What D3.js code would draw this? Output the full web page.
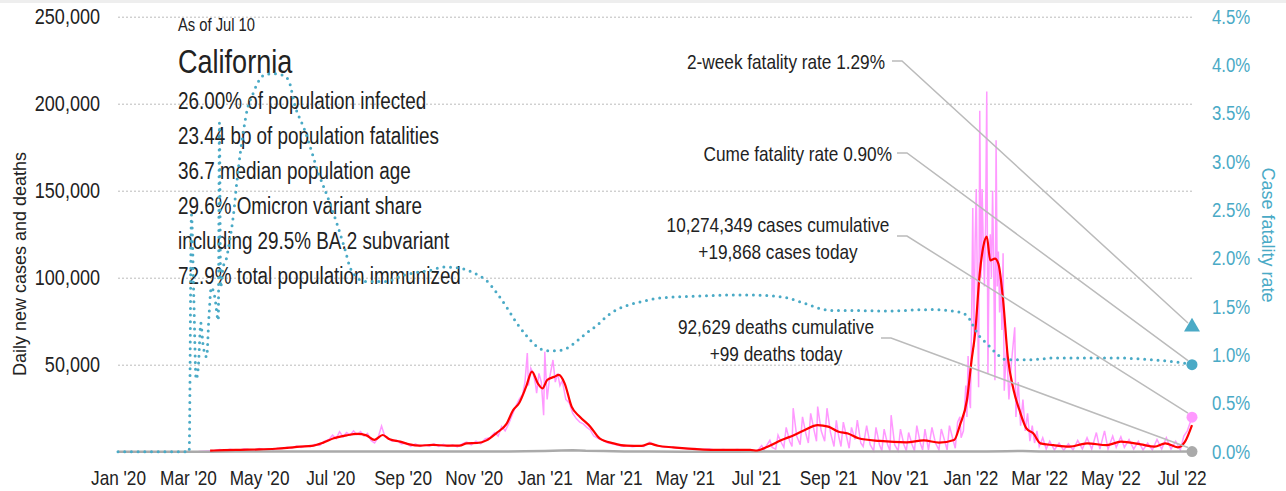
<!DOCTYPE html>
<html>
<head>
<meta charset="utf-8">
<script src="https://cdn.jsdelivr.net/npm/d3@7"></script>
<style>
  html, body { margin: 0; padding: 0; background: #fff; }
  svg text { font-family: 'Liberation Sans', Arial, sans-serif; fill: #222; }
</style>
</head>
<body>
<svg id="chart" width="1286" height="491"></svg>
<script>
// ---- data ----
const asOf = "As of Jul 10";
const place = "California";
const infoLines = [
    "26.00% of population infected",
    "23.44 bp of population fatalities",
    "36.7 median population age",
    "29.6% Omicron variant share",
    "including 29.5% BA.2 subvariant",
    "72.9% total population immunized"
];
const leftTicks = [50000, 100000, 150000, 200000, 250000];
const rightTicks = [0, 0.5, 1, 1.5, 2, 2.5, 3, 3.5, 4, 4.5];

// daily new cases
const dailyCases = [
    ["2020-01-01",0],["2020-03-01",0],["2020-03-10",100],["2020-03-18",400],["2020-03-24",700],["2020-03-28",1200],
    ["2020-04-02",900],["2020-04-06",1400],["2020-04-10",1000],["2020-04-14",800],["2020-04-18",1600],["2020-04-22",1200],
    ["2020-04-27",1000],["2020-05-01",1800],["2020-05-05",1300],["2020-05-09",1700],["2020-05-13",1200],["2020-05-17",2000],
    ["2020-05-21",1800],["2020-05-25",2500],["2020-05-29",2000],["2020-06-02",3200],["2020-06-06",2500],["2020-06-10",3400],
    ["2020-06-14",2800],["2020-06-18",4200],["2020-06-22",3600],["2020-06-26",6000],["2020-06-30",7000],["2020-07-03",9500],
    ["2020-07-06",7500],["2020-07-09",11500],["2020-07-12",8500],["2020-07-15",11000],["2020-07-18",9500],["2020-07-21",12000],
    ["2020-07-24",9800],["2020-07-27",11500],["2020-07-30",9000],["2020-08-02",10500],["2020-08-05",6500],["2020-08-08",5000],
    ["2020-08-11",8000],["2020-08-14",14800],["2020-08-17",8500],["2020-08-20",7500],["2020-08-23",6000],["2020-08-27",6500],
    ["2020-08-31",4500],["2020-09-04",5000],["2020-09-08",3000],["2020-09-12",4500],["2020-09-16",3000],["2020-09-20",4000],
    ["2020-09-24",3200],["2020-09-28",4500],["2020-10-02",3000],["2020-10-06",4200],["2020-10-10",3000],["2020-10-14",4000],
    ["2020-10-18",2800],["2020-10-22",4500],["2020-10-26",5500],["2020-10-30",4000],["2020-11-03",6000],["2020-11-07",4500],
    ["2020-11-11",7500],["2020-11-15",8000],["2020-11-19",11000],["2020-11-22",9000],["2020-11-25",14500],["2020-11-28",12000],
    ["2020-12-01",16000],["2020-12-04",21000],["2020-12-07",26000],["2020-12-10",30000],["2020-12-13",33000],["2020-12-15",40000],
    ["2020-12-17",56700],["2020-12-18",38000],["2020-12-20",48000],["2020-12-22",45000],["2020-12-24",39000],["2020-12-25",33700],
    ["2020-12-27",45000],["2020-12-29",40000],["2020-12-31",21000],["2021-01-01",57500],["2021-01-03",30000],["2021-01-05",42000],
    ["2021-01-08",52700],["2021-01-10",40000],["2021-01-12",45000],["2021-01-14",38000],["2021-01-16",41000],["2021-01-19",30000],
    ["2021-01-22",28000],["2021-01-25",22000],["2021-01-28",19000],["2021-01-31",17000],["2021-02-03",16000],["2021-02-06",14000],
    ["2021-02-09",12500],["2021-02-12",9000],["2021-02-16",7500],["2021-02-20",6500],["2021-02-24",5000],["2021-02-28",4500],
    ["2021-03-04",3800],["2021-03-08",3200],["2021-03-12",3500],["2021-03-17",2800],["2021-03-22",3300],["2021-03-27",3000],
    ["2021-04-01",5500],["2021-04-05",3800],["2021-04-09",3200],["2021-04-14",2600],["2021-04-19",2800],["2021-04-24",2000],
    ["2021-04-29",2300],["2021-05-04",1500],["2021-05-10",1800],["2021-05-16",1200],["2021-05-22",1500],["2021-05-28",900],
    ["2021-06-03",1300],["2021-06-09",800],["2021-06-15",1200],["2021-06-21",900],["2021-06-27",1100],["2021-07-02",300],
    ["2021-07-06",3500],["2021-07-08",1000],["2021-07-13",6500],["2021-07-15",2500],["2021-07-18",1500],["2021-07-20",9500],
    ["2021-07-23",5000],["2021-07-25",2500],["2021-07-27",14000],["2021-07-30",6000],["2021-08-01",3000],["2021-08-02",25000],
    ["2021-08-05",9000],["2021-08-08",4000],["2021-08-10",20000],["2021-08-13",10000],["2021-08-15",5000],["2021-08-17",22000],
    ["2021-08-20",12000],["2021-08-22",6000],["2021-08-23",25900],["2021-08-26",12000],["2021-08-29",6000],["2021-08-31",25000],
    ["2021-09-03",11000],["2021-09-06",3000],["2021-09-08",18000],["2021-09-10",9000],["2021-09-12",3000],["2021-09-14",17000],
    ["2021-09-17",8000],["2021-09-19",2000],["2021-09-21",14000],["2021-09-24",7000],["2021-09-26",18200],["2021-09-29",5000],
    ["2021-10-01",3000],["2021-10-04",15000],["2021-10-07",4000],["2021-10-10",500],["2021-10-12",14000],["2021-10-15",4000],
    ["2021-10-17",500],["2021-10-19",13000],["2021-10-22",4000],["2021-10-24",500],["2021-10-25",21000],["2021-10-28",4000],
    ["2021-10-31",500],["2021-11-02",13000],["2021-11-05",4000],["2021-11-07",500],["2021-11-09",11000],["2021-11-12",4000],
    ["2021-11-14",500],["2021-11-16",15000],["2021-11-19",5000],["2021-11-21",1000],["2021-11-23",13000],["2021-11-26",1000],
    ["2021-11-29",14000],["2021-12-02",5000],["2021-12-05",1000],["2021-12-07",13000],["2021-12-10",6000],["2021-12-12",1000],
    ["2021-12-14",15000],["2021-12-17",7000],["2021-12-19",2000],["2021-12-21",17000],["2021-12-23",20000],["2021-12-24",8000],
    ["2021-12-26",12000],["2021-12-28",38000],["2021-12-29",20000],["2021-12-30",55000],
    ["2021-12-31",30000],["2022-01-01",25000],["2022-01-02",75000],["2022-01-03",140000],["2022-01-04",60000],["2022-01-05",120000],
    ["2022-01-06",151000],["2022-01-07",90000],["2022-01-08",37000],["2022-01-09",196000],["2022-01-10",100000],["2022-01-11",151000],
    ["2022-01-12",120000],["2022-01-13",95000],["2022-01-14",130000],["2022-01-15",207000],["2022-01-16",45000],["2022-01-17",110000],
    ["2022-01-18",125000],["2022-01-19",100000],["2022-01-20",150000],["2022-01-21",105000],["2022-01-22",41000],["2022-01-23",179000],
    ["2022-01-24",95000],["2022-01-25",115000],["2022-01-26",80000],["2022-01-27",100000],["2022-01-28",70000],["2022-01-29",114000],
    ["2022-01-30",35000],["2022-02-01",60000],["2022-02-03",30000],["2022-02-05",50000],["2022-02-08",71500],["2022-02-09",20000],
    ["2022-02-11",40000],["2022-02-13",15000],["2022-02-15",30000],["2022-02-17",12000],["2022-02-19",22000],["2022-02-21",6000],
    ["2022-02-23",15000],["2022-02-25",5000],["2022-02-27",12000],["2022-03-01",3000],["2022-03-04",8000],["2022-03-07",1500],
    ["2022-03-10",6000],["2022-03-14",1000],["2022-03-18",5000],["2022-03-22",800],["2022-03-26",4500],["2022-03-30",1000],
    ["2022-04-03",6500],["2022-04-07",1500],["2022-04-11",8000],["2022-04-15",1500],["2022-04-19",11000],["2022-04-22",1500],
    ["2022-04-26",12000],["2022-04-29",1500],["2022-05-03",9000],["2022-05-06",2500],["2022-05-10",8600],["2022-05-13",2500],
    ["2022-05-17",7000],["2022-05-21",1500],["2022-05-25",6000],["2022-05-29",1000],["2022-06-02",5000],["2022-06-06",1000],
    ["2022-06-10",7000],["2022-06-14",1500],["2022-06-18",8000],["2022-06-22",1500],["2022-06-26",6000],["2022-06-30",1000],
    ["2022-07-03",9000],["2022-07-06",12000],["2022-07-10",19868]
];

// 7-day average of cases
const avgCases = [
    ["2020-03-20",600],["2020-04-01",900],["2020-04-15",1100],["2020-05-01",1300],["2020-05-15",1700],["2020-05-25",2200],
    ["2020-06-05",2900],["2020-06-15",3300],["2020-06-25",5200],["2020-07-04",7700],["2020-07-15",9400],["2020-07-24",10200],
    ["2020-08-01",9400],["2020-08-08",6800],["2020-08-15",9600],["2020-08-21",7100],["2020-08-30",5800],["2020-09-07",4200],
    ["2020-09-16",3500],["2020-09-27",3900],["2020-10-09",3500],["2020-10-20",3500],["2020-10-26",4800],["2020-11-04",5000],
    ["2020-11-12",6500],["2020-11-21",11000],["2020-11-29",15800],["2020-12-05",24000],["2020-12-10",28000],["2020-12-16",37400],
    ["2020-12-21",46000],["2020-12-26",39300],["2020-12-30",36400],["2021-01-03",41200],["2021-01-09",43000],["2021-01-13",44100],
    ["2021-01-18",39300],["2021-01-24",25900],["2021-01-31",20100],["2021-02-09",14400],["2021-02-17",7700],["2021-03-01",4800],
    ["2021-03-12",3450],["2021-03-25",3300],["2021-04-01",4600],["2021-04-08",3400],["2021-04-21",2500],["2021-05-11",1500],
    ["2021-06-03",1000],["2021-06-26",1000],["2021-07-02",700],["2021-07-11",2900],["2021-07-23",6700],["2021-08-03",9600],
    ["2021-08-12",12500],["2021-08-23",15300],["2021-09-01",14400],["2021-09-10",11500],["2021-09-18",10500],["2021-09-27",7700],
    ["2021-10-15",6200],["2021-11-07",5400],["2021-11-22",6500],["2021-12-05",5200],["2021-12-18",6700],["2021-12-23",15300],
    ["2021-12-29",29700],["2022-01-02",52700],["2022-01-05",68000],["2022-01-09",102600],["2022-01-12",117800],["2022-01-15",123600],
    ["2022-01-18",110000],["2022-01-22",111000],["2022-01-25",108000],["2022-01-29",87200],["2022-02-02",54600],["2022-02-07",35500],
    ["2022-02-12",24000],["2022-02-18",13400],["2022-02-24",10500],["2022-03-02",4800],["2022-03-13",3800],["2022-03-27",2900],
    ["2022-04-11",4800],["2022-04-28",3800],["2022-05-10",5750],["2022-05-27",4200],["2022-06-08",2900],["2022-06-17",4800],
    ["2022-06-28",2500],["2022-07-04",5750],["2022-07-10",15300]
];

// daily new deaths
const dailyDeaths = [
    ["2020-01-01",0],["2020-03-01",0],["2020-03-20",10],["2020-04-10",80],["2020-05-01",70],["2020-06-01",70],
    ["2020-07-01",90],["2020-07-20",130],["2020-08-01",160],["2020-08-20",130],["2020-09-10",100],["2020-10-01",80],
    ["2020-11-01",50],["2020-12-01",80],["2020-12-15",250],["2021-01-01",400],["2021-01-15",700],["2021-01-25",900],
    ["2021-02-05",500],["2021-02-20",350],["2021-03-10",150],["2021-04-01",60],["2021-05-01",40],["2021-06-15",30],
    ["2021-08-01",60],["2021-09-01",120],["2021-10-01",100],["2021-11-01",60],["2021-12-15",50],["2022-01-15",150],
    ["2022-02-01",300],["2022-02-15",400],["2022-03-01",150],["2022-04-01",50],["2022-05-15",30],["2022-07-10",99]
];

// case fatality rate, percent
const fatalityRate = [
    ["2020-01-01",0],["2020-03-02",0],["2020-03-04",2.45],["2020-03-06",1.6],["2020-03-08",0.75],["2020-03-10",0.9],
    ["2020-03-12",1.33],["2020-03-14",1.1],["2020-03-17",0.98],["2020-03-19",1.4],["2020-03-21",1.7],["2020-03-24",1.6],
    ["2020-03-27",1.36],["2020-03-28",3.4],["2020-03-29",1.7],["2020-03-31",1.9],["2020-04-03",2.0],["2020-04-06",2.2],
    ["2020-04-09",2.45],["2020-04-12",2.8],["2020-04-15",3.1],["2020-04-18",3.35],["2020-04-21",3.55],["2020-04-25",3.68],
    ["2020-04-30",3.82],["2020-05-06",3.9],["2020-05-14",3.91],["2020-05-20",3.9],["2020-05-26",3.85],["2020-06-01",3.57],
    ["2020-06-09",3.33],["2020-06-21",2.88],["2020-07-02",2.53],["2020-07-13",2.12],["2020-07-19",1.88],["2020-07-31",1.76],
    ["2020-08-17",1.76],["2020-09-03",1.83],["2020-09-26",1.88],["2020-10-06",1.91],["2020-10-20",1.9],["2020-11-01",1.85],
    ["2020-11-12",1.77],["2020-11-21",1.64],["2020-11-29",1.50],["2020-12-08",1.33],["2020-12-17",1.19],["2020-12-25",1.09],
    ["2021-01-03",1.045],["2021-01-11",1.045],["2021-01-20",1.07],["2021-01-28",1.14],["2021-02-06",1.23],["2021-02-15",1.31],
    ["2021-02-23",1.40],["2021-03-04",1.47],["2021-03-12",1.51],["2021-03-24",1.55],["2021-04-04",1.58],["2021-04-21",1.60],
    ["2021-05-14",1.61],["2021-06-06",1.62],["2021-06-29",1.62],["2021-07-16",1.61],["2021-07-28",1.59],["2021-08-08",1.55],
    ["2021-08-20",1.50],["2021-08-31",1.465],["2021-09-11",1.46],["2021-09-25",1.46],["2021-10-21",1.455],["2021-11-27",1.47],
    ["2021-12-20",1.45],["2021-12-29",1.41],["2022-01-03",1.31],["2022-01-09",1.19],["2022-01-15",1.12],["2022-01-23",1.02],
    ["2022-02-01",0.95],["2022-02-12",0.95],["2022-02-27",0.955],["2022-03-13",0.97],["2022-04-05",0.97],["2022-05-04",0.97],
    ["2022-06-02",0.955],["2022-06-25",0.93],["2022-07-10",0.905]
];

const lastDate = "2022-07-10";
const twoWeekRate = 1.29;
const cumeRate = 0.90;
const casesToday = 19868;
const deathsToday = 99;
const twoWeekText = "2-week fatality rate 1.29%";
const cumeText = "Cume fatality rate 0.90%";
const casesText = ["10,274,349 cases cumulative", "+19,868 cases today"];
const deathsText = ["92,629 deaths cumulative", "+99 deaths today"];

// ---- drawing ----
const parse = d3.timeParse("%Y-%m-%d");
const toPts = arr => arr.map(d => ({ date: parse(d[0]), value: d[1] }));

// no narrow font installed: squeeze the regular face horizontally
const narrow = 0.82;
function condense(sel) {
    sel.each(function () {
        const t = d3.select(this);
        const xv = +t.attr("x") || 0;
        t.attr("x", xv / narrow).attr("transform", `scale(${narrow},1)`);
    });
}

const svg = d3.select("#chart");
const blue = "#4aaac6";
const plotLeft = 118, plotRight = 1192, plotTop = 16.7, plotBottom = 451.7;

const x = d3.scaleTime()
    .domain([parse("2020-01-01"), parse(lastDate)])
    .range([plotLeft, plotRight]);
const y = d3.scaleLinear().domain([0, 250000]).range([plotBottom, plotTop]);
const yRate = d3.scaleLinear().domain([0, 4.5]).range([plotBottom, plotTop]);

svg.append("rect").attr("width", 1286).attr("height", 491).attr("fill", "#fff");
svg.append("rect").attr("width", 1286).attr("height", 3).attr("fill", "#eeeeee");

// left axis with gridlines
const gAxisL = svg.append("g")
    .attr("transform", `translate(${plotLeft},0)`)
    .call(d3.axisLeft(y).tickValues(leftTicks).tickSize(-(plotRight - plotLeft)).tickPadding(18).tickFormat(d3.format(",")));
gAxisL.select(".domain").remove();
gAxisL.selectAll("line").attr("stroke", "#bbb").attr("stroke-dasharray", "2,2");
gAxisL.selectAll("text").style("font-size", "22px").attr("fill", "#222").call(condense);

// right axis
const gAxisR = svg.append("g")
    .attr("transform", `translate(${plotRight},0)`)
    .call(d3.axisRight(yRate).tickValues(rightTicks).tickSize(0).tickPadding(20).tickFormat(d => d3.format(".1f")(d) + "%"));
gAxisR.select(".domain").remove();
gAxisR.selectAll("text").style("font-size", "20.5px").style("fill", blue).call(condense);

// bottom axis
const gAxisB = svg.append("g")
    .attr("transform", `translate(0,${plotBottom})`)
    .call(d3.axisBottom(x).ticks(d3.timeMonth.every(2)).tickSize(0).tickPadding(18).tickFormat(d3.timeFormat("%b '%y")));
gAxisB.select(".domain").remove();
gAxisB.selectAll("text").style("font-size", "21px").attr("fill", "#222").call(condense);

// axis titles
svg.append("text")
    .attr("transform", "translate(26,264) rotate(-90)")
    .attr("text-anchor", "middle")
    .style("font-size", "18px")
    .text("Daily new cases and deaths");
svg.append("text")
    .attr("transform", "translate(1262,235) rotate(90)")
    .attr("text-anchor", "middle")
    .style("font-size", "18px")
    .style("fill", blue)
    .text("Case fatality rate");

// info block
svg.append("text").attr("x", 178).attr("y", 31.5).style("font-size", "18px").text(asOf).call(condense);
svg.append("text").attr("x", 178).attr("y", 73).style("font-size", "33px").text(place).call(condense);
infoLines.forEach((t, i) => {
    svg.append("text").attr("x", 178).attr("y", 109.5 + i * 35).style("font-size", "23px").text(t).call(condense);
});

// series
const lineL = d3.line().x(d => x(d.date)).y(d => y(d.value));
svg.append("path").datum(toPts(dailyCases))
    .attr("fill", "none").attr("stroke", "#ff99ff").attr("stroke-width", 1.5)
    .attr("d", lineL);
svg.append("path").datum(toPts(dailyDeaths))
    .attr("fill", "none").attr("stroke", "#aaaaaa").attr("stroke-width", 2.5)
    .attr("d", lineL);
svg.append("path").datum(toPts(avgCases))
    .attr("fill", "none").attr("stroke", "#ff0000").attr("stroke-width", 2.2)
    .attr("stroke-linejoin", "round")
    .attr("d", d3.line().x(d => x(d.date)).y(d => y(d.value)).curve(d3.curveMonotoneX));
svg.append("path").datum(toPts(fatalityRate))
    .attr("fill", "none").attr("stroke", blue).attr("stroke-width", 3)
    .attr("stroke-linecap", "round").attr("stroke-dasharray", "0,6.7")
    .attr("d", d3.line().x(d => x(d.date)).y(d => yRate(d.value)).curve(d3.curveMonotoneX));

// annotations with leader lines
const endX = x(parse(lastDate));
const leaders = [
    { text: [twoWeekText], tx: 885, anchor: "end", ty: 69.5, lx: 892, ly: 61, yEnd: yRate(twoWeekRate) },
    { text: [cumeText], tx: 892, anchor: "end", ty: 161.5, lx: 897, ly: 153, yEnd: yRate(cumeRate) },
    { text: casesText, tx: 778, anchor: "middle", ty: 232, lx: 897, ly: 236, yEnd: y(casesToday) },
    { text: deathsText, tx: 776, anchor: "middle", ty: 334, lx: 881, ly: 338, yEnd: y(deathsToday) }
];
leaders.forEach(a => {
    a.text.forEach((t, i) => {
        svg.append("text").attr("x", a.tx).attr("y", a.ty + i * 27)
            .attr("text-anchor", a.anchor).style("font-size", "21px").text(t).call(condense);
    });
    svg.append("path")
        .attr("fill", "none").attr("stroke", "#bbb").attr("stroke-width", 1.5)
        .attr("d", d3.line()([[a.lx, a.ly], [a.lx + 10, a.ly], [endX - 4, a.yEnd - 4]]));
});

// end markers
svg.append("path")
    .attr("d", d3.symbol(d3.symbolTriangle, 110)())
    .attr("transform", `translate(${endX},${yRate(twoWeekRate)})`)
    .attr("fill", blue);
svg.append("circle").attr("cx", endX).attr("cy", yRate(cumeRate)).attr("r", 5.5).attr("fill", blue);
svg.append("circle").attr("cx", endX).attr("cy", y(casesToday)).attr("r", 5.5).attr("fill", "#ff99ff");
svg.append("circle").attr("cx", endX).attr("cy", y(deathsToday)).attr("r", 5.5).attr("fill", "#aaaaaa");
</script>
</body>
</html>
